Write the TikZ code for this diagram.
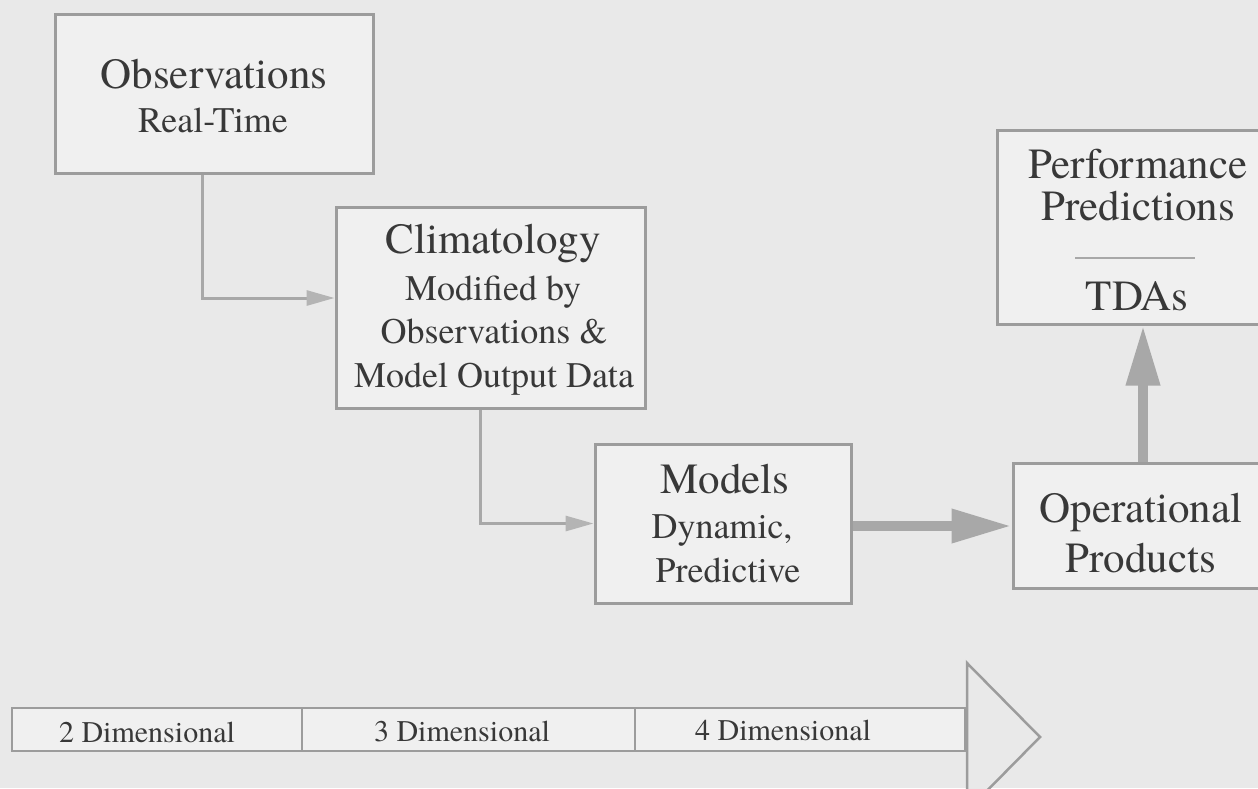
\documentclass[tikz,border=0pt]{standalone}
\usepackage{fontspec}
\setmainfont{texgyretermes}[Extension=.otf, UprightFont=*-regular, BoldFont=*-bold, ItalicFont=*-italic, BoldItalicFont=*-bolditalic]
\usetikzlibrary{arrows.meta}
\definecolor{paper}{HTML}{E9E9E9}
\definecolor{boxfill}{HTML}{F0F0F0}
\definecolor{edge}{HTML}{9C9C9C}
\definecolor{ink}{HTML}{383838}
\definecolor{flow}{HTML}{A8A8A8}
\definecolor{flowhead}{HTML}{B4B4B4}
\newcommand{\titlefont}{\fontsize{43}{48}\selectfont}
\newcommand{\subfont}{\fontsize{36}{40}\selectfont}
\newcommand{\barfont}{\fontsize{30}{34}\selectfont}
\tikzset{
  box/.style={draw=edge, line width=3pt, fill=boxfill, inner sep=0pt},
  ttl/.style={anchor=base, text=ink, font=\titlefont, inner sep=0pt},
  sub/.style={anchor=base, text=ink, font=\subfont, inner sep=0pt},
  barlbl/.style={anchor=base, text=ink, font=\barfont, inner sep=0pt},
  conn/.style={draw=flow, line width=3pt, -{Triangle[length=28pt, width=15pt, fill=flowhead, color=flowhead]}},
  bigflow/.style={draw=flow, line width=10pt, -{Triangle[length=60pt, width=32pt, fill=flow, color=flow]}},
  barbox/.style={draw=edge, line width=2.5pt, fill=boxfill, inner sep=0pt, minimum height=43pt},
}
\begin{document}
\begin{tikzpicture}[x=1pt, y=-1pt]
\useasboundingbox (0,0) rectangle (1258,788);
\fill[paper] (0,0) rectangle (1258,788);

% boxes
\node[box, minimum width=318pt, minimum height=159pt] (obs) at (214,93.5) {};
\node[box, minimum width=309pt, minimum height=201pt] (clim) at (490.5,307.5) {};
\node[box, minimum width=256pt, minimum height=159pt] (mod) at (723,523.5) {};
\node[box, minimum width=257pt, minimum height=125pt] (oper) at (1141.5,525.5) {};
\node[box, minimum width=283pt, minimum height=194pt] (perf) at (1138.5,227) {};

% texts
\node[ttl] (obsT) at (214,88) {Observations};
\node[sub] (obsS) at (213,132) {Real-Time};
\node[ttl] (climT) at (493,253) {Climatology};
\node[sub] (climS1) at (493,300) {Modified by};
\node[sub] (climS2) at (494,343) {Observations \&};
\node[sub] (climS3) at (494,387) {Model Output Data};
\node[ttl] (modT) at (725,493) {Models};
\node[sub] (modS1) at (722,538) {Dynamic,};
\node[sub] (modS2) at (728,582) {Predictive};
\node[ttl] (perfT1) at (1138,178) {Performance};
\node[ttl] (perfT2) at (1138,220) {Predictions};
\node[ttl] (perfT3) at (1137,310) {TDAs};
\node[ttl] (operT1) at (1141,522) {Operational};
\node[ttl] (operT2) at (1141,572) {Products};
\coordinate (sepL) at (1075,258);
\coordinate (sepR) at (1195,258);
\draw[draw=flow, line width=1.5pt] (sepL) -- (sepR);

% connectors
\draw[conn] ([xshift=-12pt]obs.south) |- ([yshift=9.5pt]clim.west);
\draw[conn] ([xshift=-10.5pt]clim.south) |- (mod.west);
\draw[bigflow] ([yshift=-2.5pt]mod.east) -- ([yshift=-2.5pt]mod.east -| oper.west);
\draw[bigflow] ([xshift=1.5pt]oper.north) -- ([xshift=1.5pt]oper.north |- perf.south);

% dimension bar
\node[barbox, minimum width=290pt] (d2) at (157,729.5) {};
\node[barbox, minimum width=333pt] (d3) at (468.5,729.5) {};
\node[barbox, minimum width=330pt] (d4) at (800,729.5) {};
\node[barlbl] (d2T) at (147,742) {2 Dimensional};
\node[barlbl] (d3T) at (462,741) {3 Dimensional};
\node[barlbl] (d4T) at (783,740) {4 Dimensional};
\coordinate (triA) at (967,663);
\coordinate (triB) at (1040,737);
\coordinate (triC) at (967,811);
\draw[draw=edge, line width=2.5pt, fill=paper, line join=miter] (triA) -- (triB) -- (triC) -- cycle;
\end{tikzpicture}
\end{document}
